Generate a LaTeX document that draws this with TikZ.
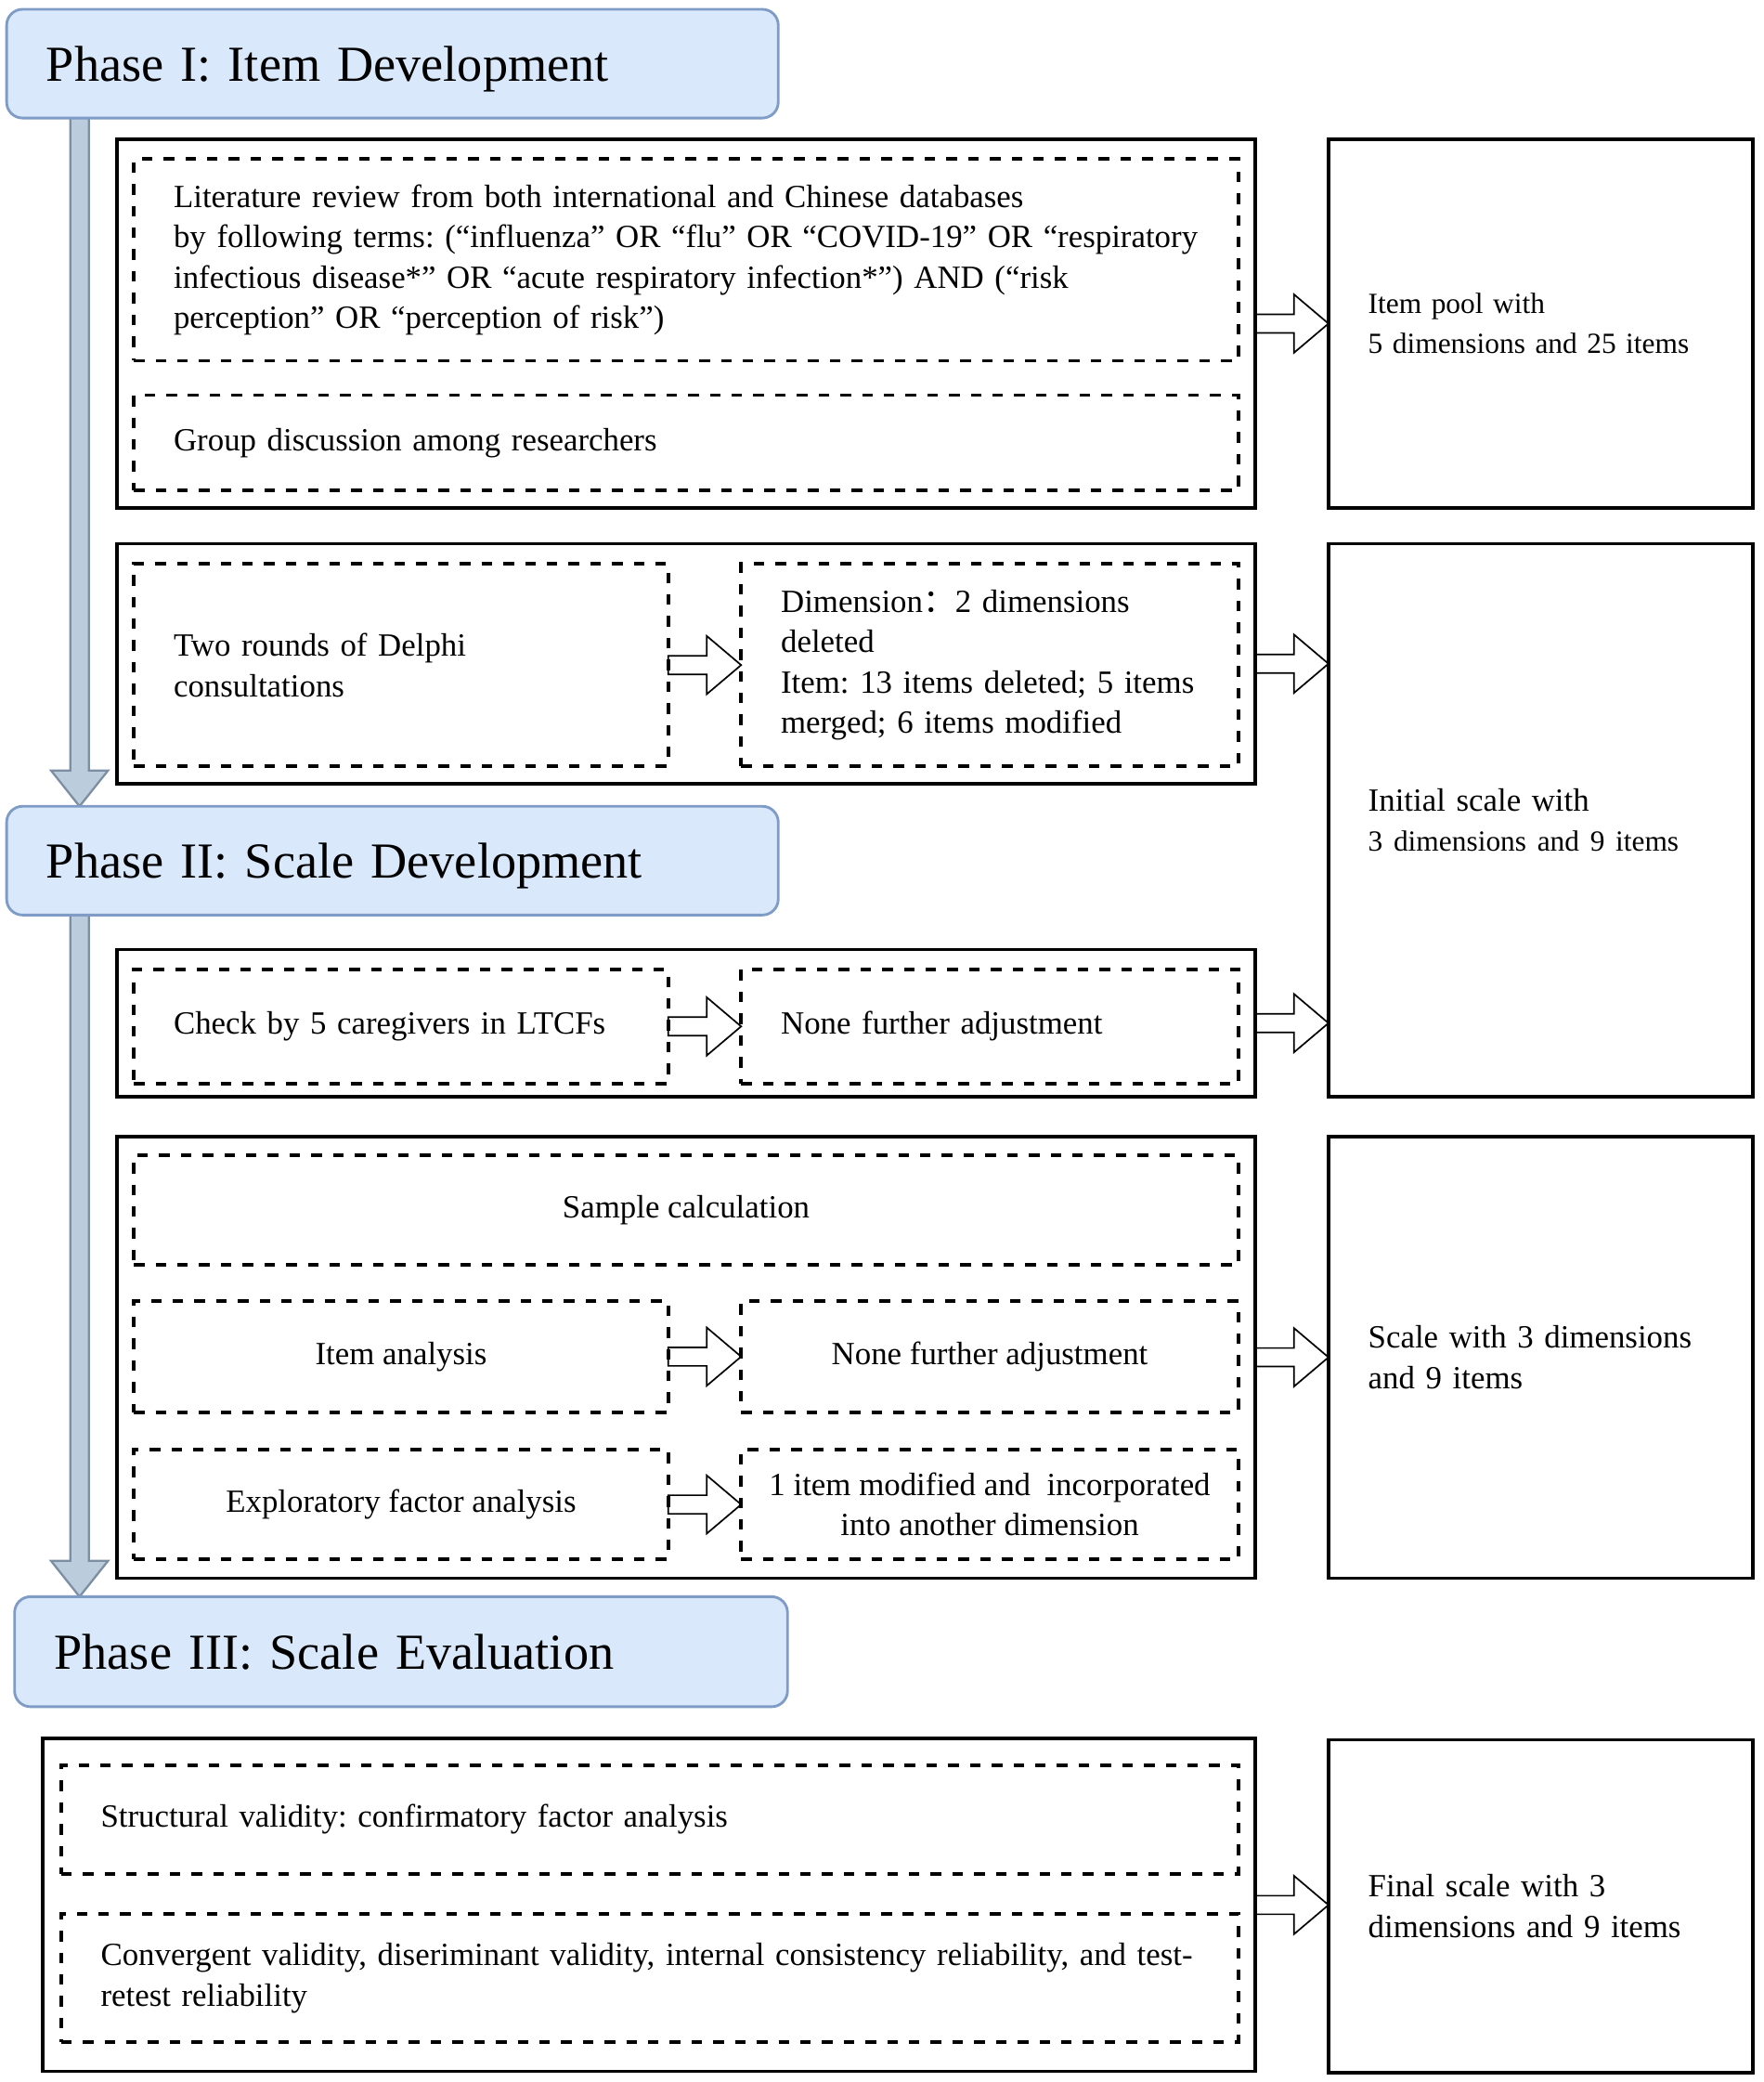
\documentclass[tikz,border=0pt]{standalone}
\usepackage{fontspec}
\setmainfont{Liberation Serif}
\newfontfamily\cjk{Noto Sans CJK SC}
\usetikzlibrary{calc,backgrounds}
\definecolor{phasefill}{HTML}{DAE8FC}
\definecolor{phaseline}{HTML}{7F9CC6}
\definecolor{vfill}{HTML}{BBCCDC}
\definecolor{vline}{HTML}{7C8FA2}
\frenchspacing
\newcommand\bodyfont{\fontsize{12.2}{15.25}\selectfont\frenchspacing}
\newcommand\smallfont{\fontsize{11}{15}\selectfont\frenchspacing}
\newcommand\titlefont{\fontsize{19}{23}\selectfont\frenchspacing}
\newcommand\lne[1]{\mbox{#1}}
\tikzset{
  base/.style={inner xsep=15pt, inner ysep=0pt, outer sep=0pt, font=\bodyfont},
  phase/.style={base, draw=phaseline, fill=phasefill, line width=1pt, rounded corners=6pt, font=\titlefont, align=left, text depth=0pt},
  outerbox/.style={base, draw=black, line width=1.3pt},
  dbox/.style={base, draw=black, line width=1.35pt, dash pattern=on 4pt off 4.2pt},
  rbox/.style={base, draw=black, line width=1.25pt, align=left},
  ctext/.style={align=center, inner xsep=2pt},
  hollow/.style={draw=black, line width=0.6pt, line join=miter},
  vblock/.style={draw=vline, fill=vfill, line width=0.8pt, line join=miter},
}
\newcommand\harrow[2]{\draw[hollow] let \p1=(#1), \p2=(#2) in
  (\x1,\y1+3.5pt) -- (\x2-13pt,\y1+3.5pt) -- (\x2-13pt,\y1+11pt) -- (\x2,\y1)
  -- (\x2-13pt,\y1-11pt) -- (\x2-13pt,\y1-3.5pt) -- (\x1,\y1-3.5pt) -- cycle;}
\newcommand\varrow[2]{\draw[vblock] let \p1=(#1), \p2=(#2) in
  (\x1-3.5pt,\y1) -- (\x1-3.5pt,\y2+13.5pt) -- (\x1-10.75pt,\y2+13.5pt) -- (\x1,\y2)
  -- (\x1+10.75pt,\y2+13.5pt) -- (\x1+3.5pt,\y2+13.5pt) -- (\x1+3.5pt,\y1) -- cycle;}
\begin{document}
\begin{tikzpicture}[x=0.5pt,y=-0.5pt]
\useasboundingbox (0,0) rectangle (1330,1570);

% Phase headers
\node[phase, minimum width=291pt, minimum height=41pt, text width=261pt] (p1) at (296,48) {Phase I: Item Development};
\node[phase, minimum width=291pt, minimum height=41pt, text width=261pt] (p2) at (296,649) {Phase II: Scale Development};
\node[phase, minimum width=291.5pt, minimum height=41.5pt, text width=261.5pt] (p3) at (302.5,1245.5) {Phase III: Scale Evaluation};

% Group 1
\node[outerbox, minimum width=429.5pt, minimum height=139pt] (g1) at (517.5,244) {};
\node[dbox, minimum width=416.5pt, minimum height=76pt, text width=386.5pt, align=left] (lit) at (517.5,196)
  {\lne{Literature review from both international and Chinese databases}\\
   \lne{by following terms: (“influenza” OR “flu” OR “COVID-19” OR “respiratory}\\
   \lne{infectious disease*” OR “acute respiratory infection*”) AND (“risk}\\
   \lne{perception” OR “perception of risk”)}};
\node[dbox, minimum width=416.5pt, minimum height=36pt, text width=386.5pt, align=left] (grp) at (517.5,334)
  {\lne{Group discussion among researchers}};
\node[rbox, minimum width=160pt, minimum height=139pt, text width=130pt, font=\smallfont] (r1) at (1162,244)
  {\lne{Item pool with}\\ \lne{5 dimensions and 25 items}};

% Group 2
\node[outerbox, minimum width=429.5pt, minimum height=90.5pt] (g2) at (517.5,500.5) {};
\node[dbox, minimum width=201.5pt, minimum height=76.5pt, text width=171.5pt, align=left] (delphi) at (302.5,501.5)
  {\lne{Two rounds of Delphi}\\ \lne{consultations}};
\node[dbox, minimum width=187.5pt, minimum height=76.5pt, text width=157.5pt, align=left] (dimen) at (746.5,501.5)
  {\lne{Dimension{\cjk ：}2 dimensions}\\ \lne{deleted}\\
   \lne{Item: 13 items deleted; 5 items}\\ \lne{merged; 6 items modified}};
\node[rbox, minimum width=160pt, minimum height=208.5pt, text width=130pt] (r2) at (1162,618.5)
  {\lne{Initial scale with}\\ {\smallfont\lne{3 dimensions and 9 items}}};

% Group 3
\node[outerbox, minimum width=429.5pt, minimum height=55.5pt] (g3) at (517.5,771.5) {};
\node[dbox, minimum width=201.5pt, minimum height=43pt, text width=171.5pt, align=left] (check) at (302.5,774)
  {\lne{Check by 5 caregivers in LTCFs}};
\node[dbox, minimum width=187.5pt, minimum height=43pt, text width=157.5pt, align=left] (none1) at (746.5,774)
  {\lne{None further adjustment}};

% Group 4
\node[outerbox, minimum width=429.5pt, minimum height=166.5pt] (g4) at (517.5,1023.5) {};
\node[dbox, ctext, minimum width=416.5pt, minimum height=41.5pt] (sample) at (517.5,912.5) {Sample calculation};
\node[dbox, ctext, minimum width=201.5pt, minimum height=42pt] (itema) at (302.5,1023) {Item analysis};
\node[dbox, ctext, minimum width=187.5pt, minimum height=42pt] (none2) at (746.5,1023) {None further adjustment};
\node[dbox, ctext, minimum width=201.5pt, minimum height=41.5pt] (efa) at (302.5,1134.5) {Exploratory factor analysis};
\node[dbox, ctext, minimum width=187.5pt, minimum height=41.5pt] (mod) at (746.5,1134.5)
  {1 item modified and~ incorporated\\ into another dimension};
\node[rbox, minimum width=160pt, minimum height=166.5pt, text width=130pt] (r4) at (1162,1023.5)
  {\lne{Scale with 3 dimensions}\\ \lne{and 9 items}};

% Group 5
\node[outerbox, minimum width=457.5pt, minimum height=125.5pt] (g5) at (489.5,1436.5) {};
\node[dbox, minimum width=444pt, minimum height=41pt, text width=414pt, align=left] (struct) at (490,1372)
  {\lne{Structural validity: confirmatory factor analysis}};
\node[dbox, minimum width=444pt, minimum height=48.5pt, text width=414pt, align=left] (conv) at (490,1491.5)
  {\lne{Convergent validity, diseriminant validity, internal consistency reliability, and test-}\\
   \lne{retest reliability}};
\node[rbox, minimum width=160pt, minimum height=125.5pt, text width=130pt] (r5) at (1162,1437.5)
  {\lne{Final scale with 3}\\ \lne{dimensions and 9 items}};

% Vertical phase arrows
\coordinate (v1a) at ($(p1.south west)+(55,-3)$);
\coordinate (v1b) at ($(p2.north west)+(55,0)$);
\coordinate (v2a) at ($(p2.south west)+(55,-3)$);
\coordinate (v2b) at (v2a |- p3.north);
\begin{scope}[on background layer]
\varrow{v1a}{v1b}
\varrow{v2a}{v2b}
\end{scope}

% Hollow arrows
\harrow{g1.east}{r1.west |- g1.east}
\harrow{g2.east}{r2.west |- g2.east}
\harrow{g3.east}{r2.west |- g3.east}
\harrow{g4.east}{r4.west |- g4.east}
\harrow{g5.east}{r5.west |- g5.east}
\harrow{delphi.east}{dimen.west}
\harrow{check.east}{none1.west}
\harrow{itema.east}{none2.west}
\harrow{efa.east}{mod.west}
\end{tikzpicture}
\end{document}
